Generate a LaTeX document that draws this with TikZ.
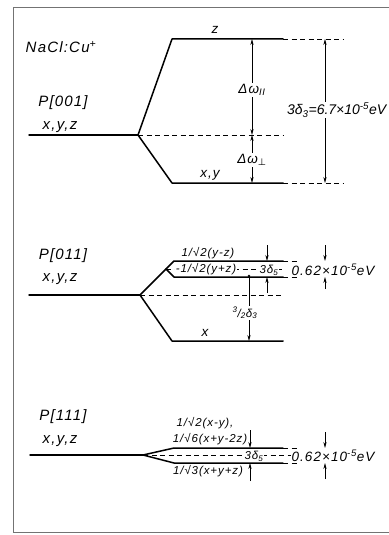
\documentclass[tikz,border=0pt]{standalone}
\usepackage{fontspec}
\usetikzlibrary{arrows.meta}
\newfontfamily\hand[LetterSpace=8]{Liberation Sans}
\newfontfamily\handn{Liberation Sans}
\newfontfamily\symf{DejaVu Sans}
\begin{document}
\begin{tikzpicture}[x=1pt,y=-1pt,
  lvl/.style={line width=1.5pt,line cap=round,line join=round},
  dsh/.style={line width=0.6pt,dash pattern=on 5pt off 3.5pt},
  dimarr/.style={line width=0.6pt,-{Stealth[length=6pt,width=3.2pt]}},
  dimboth/.style={line width=0.6pt,{Stealth[length=6pt,width=3.2pt]}-{Stealth[length=6pt,width=3.2pt]}},
  big/.style={font=\hand\itshape\fontsize{15}{17}\selectfont,inner sep=1pt},
  med/.style={font=\hand\itshape\fontsize{13.5}{15}\selectfont,inner sep=1pt},
  sml/.style={font=\hand\itshape\fontsize{11.5}{13}\selectfont,inner sep=0.6pt},
  wb/.style={fill=white},
  framec/.style={draw=black!55,line width=0.7pt}]
\useasboundingbox (0,0) rectangle (388,535);
\draw[framec] (392,7) -- (13,7) -- (13,532) -- (392,532);

% ---------- Panel 1 : P[001]
\coordinate (a0) at (29,135);
\coordinate (a1) at (138,135);
\coordinate (azL) at (172,39);
\coordinate (azR) at (283,39);
\coordinate (azE) at (343,39);
\coordinate (axL) at (172,183);
\coordinate (axR) at (283,183);
\coordinate (axE) at (343,183);
\coordinate (amR) at (283,135);
\draw[lvl] (a0) -- (a1);
\draw[lvl] (a1) -- (azL) -- (azR);
\draw[lvl] (a1) -- (axL) -- (axR);
\draw[dsh] (azR) -- (azE);
\draw[dsh] (axR) -- (axE);
\draw[dsh] (a1) -- (amR);
\coordinate (d1t) at (252,39);
\coordinate (d1m) at (252,135);
\coordinate (d1b) at (252,183);
\draw[dimboth] (d1m) -- (d1t);
\draw[dimboth] (d1m) -- (d1b);
\coordinate (d2t) at (325,39);
\coordinate (d2b) at (325,183);
\draw[dimboth] (d2t) -- (d2b);
\node[med,wb] (dwpar) at (252,90) {Δω\textsubscript{II}};
\node[med,wb] (dwperp) at (252,160) {Δω\textsubscript{\symf ⊥}};
\node[wb,inner sep=0.5pt,anchor=east,font=\handn\itshape\fontsize{14}{16}\selectfont] (e1) at (387,110) {3δ\textsubscript{3}=6.7×10\textsuperscript{-5}eV};
\node[med] (lz) at (215,30) {z};
\node[med] (lxy) at (210,175) {x,y};
\node[big] (nacl) at (61,47) {NaCl:Cu\textsuperscript{+}};
\node[big] (p1) at (63,103) {P[001]};
\node[big] (x1) at (60,127) {x,y,z};

% ---------- Panel 2 : P[011]
\coordinate (b0) at (29,295);
\coordinate (b1) at (140,295);
\coordinate (bs) at (166,269);
\coordinate (buL) at (174,261);
\coordinate (buR) at (283,261);
\coordinate (buE) at (299,261);
\coordinate (blL) at (174,277);
\coordinate (blR) at (283,277);
\coordinate (blE) at (299,277);
\coordinate (bxL) at (172,341);
\coordinate (bxR) at (283,341);
\coordinate (bmR) at (283,295);
\coordinate (bcR) at (283,269);
\draw[lvl] (b0) -- (b1);
\draw[lvl] (b1) -- (bs) -- (buL) -- (buR);
\draw[lvl] (bs) -- (blL) -- (blR);
\draw[lvl] (b1) -- (bxL) -- (bxR);
\draw[dsh] (buR) -- (buE);
\draw[dsh] (blR) -- (blE);
\draw[dsh] (b1) -- (bmR);
\draw[dsh] (bs) -- (bcR);
\coordinate (b5a) at (267,245);
\coordinate (b5b) at (267,261);
\coordinate (b5c) at (267,293);
\coordinate (b5d) at (267,277);
\draw[dimarr] (b5a) -- (b5b);
\draw[dimarr] (b5c) -- (b5d);
\coordinate (b3t) at (249,276);
\coordinate (b3b) at (249,341);
\draw[dimarr] (b3t) -- (b3b);
\fill (b3t) circle (1.4pt);
\coordinate (b6a) at (325,245);
\coordinate (b6b) at (325,261);
\coordinate (b6c) at (325,289);
\coordinate (b6d) at (325,277);
\draw[dimarr] (b6a) -- (b6b);
\draw[dimarr] (b6c) -- (b6d);
\node[sml] (byz) at (208,253) {1/√2(y-z)};
\node[sml,wb] (bypz) at (206,269.5) {-1/√2(y+z)};
\node[sml,wb] (b3d5) at (269,270) {3δ\textsubscript{5}};
\node[sml,wb] (b32) at (245,313) {\textsuperscript{3}/\textsubscript{2}δ\textsubscript{3}};
\node[med] (lx) at (205,333) {x};
\node[med,wb,inner sep=0.3pt] (e2) at (333,270) {0.62×10\textsuperscript{-5}eV};
\node[big] (p2) at (63,256) {P[011]};
\node[big] (x2) at (60,279) {x,y,z};

% ---------- Panel 3 : P[111]
\coordinate (c0) at (30,455);
\coordinate (c1) at (143,455);
\coordinate (cuL) at (174,448);
\coordinate (cuR) at (283,448);
\coordinate (cuE) at (297,448);
\coordinate (clL) at (174,463);
\coordinate (clR) at (283,463);
\coordinate (clE) at (297,463);
\coordinate (cmR) at (291,455);
\draw[lvl] (c0) -- (c1);
\draw[lvl] (c1) -- (cuL) -- (cuR);
\draw[lvl] (c1) -- (clL) -- (clR);
\draw[dsh] (cuR) -- (cuE);
\draw[dsh] (clR) -- (clE);
\draw[dsh] (c1) -- (cmR);
\coordinate (c5a) at (250,430);
\coordinate (c5b) at (250,448);
\coordinate (c5c) at (250,481);
\coordinate (c5d) at (250,463);
\draw[dimarr] (c5a) -- (c5b);
\draw[dimarr] (c5c) -- (c5d);
\coordinate (c6a) at (325,432);
\coordinate (c6b) at (325,448);
\coordinate (c6c) at (325,479);
\coordinate (c6d) at (325,463);
\draw[dimarr] (c6a) -- (c6b);
\draw[dimarr] (c6c) -- (c6d);
\node[sml] (cxy) at (205,423) {1/√2(x-y),};
\node[sml] (cxy2) at (210,439) {1/√6(x+y-2z)};
\node[sml] (cxyz) at (208,471) {1/√3(x+y+z)};
\node[sml,wb,inner sep=0.3pt] (c3d5) at (254,456) {3δ\textsubscript{5}};
\node[med,wb,inner sep=0.3pt] (e3) at (333,456) {0.62×10\textsuperscript{-5}eV};
\node[big] (p3) at (63,417) {P[111]};
\node[big] (x3) at (60,441) {x,y,z};
\end{tikzpicture}
\end{document}
